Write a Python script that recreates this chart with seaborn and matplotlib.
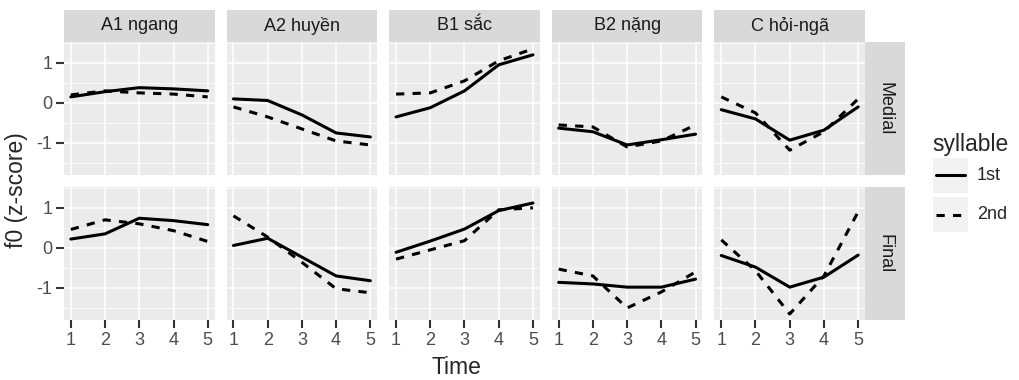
import pandas as pd
import matplotlib.pyplot as plt
import seaborn as sns
from matplotlib.patches import Rectangle
from matplotlib.lines import Line2D

# Data
time = [1, 2, 3, 4, 5]
tones = ["A1 ngang", "A2 huyền", "B1 sắc", "B2 nặng", "C hỏi-ngã"]
positions = ["Medial", "Final"]
syllables = ["1st", "2nd"]

medial_1st = [
    [0.15, 0.28, 0.38, 0.35, 0.30],
    [0.10, 0.06, -0.30, -0.75, -0.85],
    [-0.35, -0.12, 0.30, 0.95, 1.20],
    [-0.63, -0.72, -1.05, -0.92, -0.78],
    [-0.17, -0.40, -0.93, -0.68, -0.10],
]
medial_2nd = [
    [0.20, 0.30, 0.25, 0.22, 0.15],
    [-0.10, -0.35, -0.65, -0.95, -1.05],
    [0.22, 0.25, 0.55, 1.05, 1.35],
    [-0.55, -0.60, -1.10, -0.95, -0.55],
    [0.15, -0.25, -1.18, -0.72, 0.10],
]
final_1st = [
    [0.22, 0.35, 0.74, 0.68, 0.58],
    [0.06, 0.24, -0.23, -0.70, -0.82],
    [-0.11, 0.17, 0.47, 0.93, 1.12],
    [-0.86, -0.90, -0.98, -0.98, -0.78],
    [-0.19, -0.48, -0.98, -0.73, -0.18],
]
final_2nd = [
    [0.46, 0.70, 0.60, 0.43, 0.16],
    [0.80, 0.27, -0.36, -1.02, -1.12],
    [-0.28, -0.05, 0.18, 0.95, 1.00],
    [-0.53, -0.70, -1.50, -1.10, -0.60],
    [0.20, -0.57, -1.65, -0.70, 0.90],
]

series = {
    ("Medial", "1st"): medial_1st,
    ("Medial", "2nd"): medial_2nd,
    ("Final", "1st"): final_1st,
    ("Final", "2nd"): final_2nd,
}

rows = []
for (pos, syl), vals in series.items():
    for t_i, tone in enumerate(tones):
        for x, y in zip(time, vals[t_i]):
            rows.append({"position": pos, "syllable": syl, "tone": tone, "Time": x, "f0": y})
df = pd.DataFrame(rows)

# -----------------
# Plot
# -----------------
sns.set_style("white")
plt.rcParams["font.family"] = ["Liberation Sans", "DejaVu Sans"]
plt.rcParams["axes.unicode_minus"] = False

W, H = 1019, 380
fig, axes = plt.subplots(2, 5, figsize=(W / 100, H / 100), dpi=100)
fig.subplots_adjust(left=64 / W, right=865 / W, top=1 - 42 / H, bottom=1 - 320 / H,
                    wspace=0.08, hspace=0.09)

dashes = {"1st": "", "2nd": (2.7, 2.7)}
grey_txt = "#4D4D4D"
lw = 2.2

for r, pos in enumerate(positions):
    for c, tone in enumerate(tones):
        ax = axes[r, c]
        sub = df[(df["position"] == pos) & (df["tone"] == tone)]
        sns.lineplot(data=sub, x="Time", y="f0", style="syllable", style_order=syllables,
                     dashes=dashes, color="black", linewidth=lw, ax=ax, legend=False, zorder=3)
        ax.set_facecolor("#EBEBEB")
        ax.set_xlim(0.8, 5.2)
        ax.set_ylim(-1.8, 1.52)
        ax.set_xticks(time)
        ax.set_yticks([-1, 0, 1])
        ax.set_yticks([-1.5, -0.5, 0.5, 1.5], minor=True)
        ax.grid(True, which="major", color="white", linewidth=1.1)
        ax.grid(True, which="minor", axis="y", color="white", linewidth=0.5)
        ax.set_axisbelow("line")
        for s in ax.spines.values():
            s.set_visible(False)
        ax.xaxis.set_tick_params(which="major", bottom=(r == 1), labelbottom=(r == 1),
                                 direction="out", length=5.5, width=1.5, color="#333333",
                                 labelsize=13, labelcolor=grey_txt, pad=3)
        ax.yaxis.set_tick_params(which="major", left=(c == 0), labelleft=(c == 0),
                                 direction="out", length=5.5, width=1.5, color="#333333",
                                 labelsize=13, labelcolor=grey_txt, pad=3)
        ax.tick_params(which="minor", length=0)
        ax.set_xlabel("")
        ax.set_ylabel("")
        if r == 0:
            ax.add_patch(Rectangle((0, 1), 1, 32 / 133, transform=ax.transAxes,
                                   facecolor="#D9D9D9", edgecolor="none", clip_on=False))
            ax.text(0.5, 1 + 16 / 133, tone, transform=ax.transAxes, ha="center",
                    va="center", fontsize=13, color="#1A1A1A")
        if c == len(tones) - 1:
            ax.add_patch(Rectangle((1, 0), 40 / 150, 1, transform=ax.transAxes,
                                   facecolor="#D9D9D9", edgecolor="none", clip_on=False))
            ax.text(1 + 20 / 150, 0.5, pos, transform=ax.transAxes, ha="center",
                    va="center", rotation=-90, fontsize=13, color="#1A1A1A")

fig.text(17 / W, 1 - 190 / H, "f0 (z-score)", rotation=90, ha="center", va="center", fontsize=16.5)
fig.text(456 / W, 1 - 367 / H, "Time", ha="center", va="center", fontsize=16.5)

# Legend (ggplot-like keys with grey backgrounds)
fig.text(932 / W, 1 - 145 / H, "syllable", ha="left", va="center", fontsize=16.5)
for i, syl in enumerate(syllables):
    top = 158 + i * 39
    fig.add_artist(Rectangle((933 / W, 1 - (top + 35) / H), 35 / W, 35 / H,
                             transform=fig.transFigure, facecolor="#F2F2F2", edgecolor="none"))
    yc = 1 - (top + 17.5) / H
    fig.add_artist(Line2D([936 / W, 965 / W], [yc, yc], transform=fig.transFigure,
                          color="black", linewidth=lw,
                          linestyle="-" if syl == "1st" else (0, dashes["2nd"])))
    fig.text(977 / W, yc, syl, ha="left", va="center", fontsize=13)

plt.savefig("out.png", dpi=100)
